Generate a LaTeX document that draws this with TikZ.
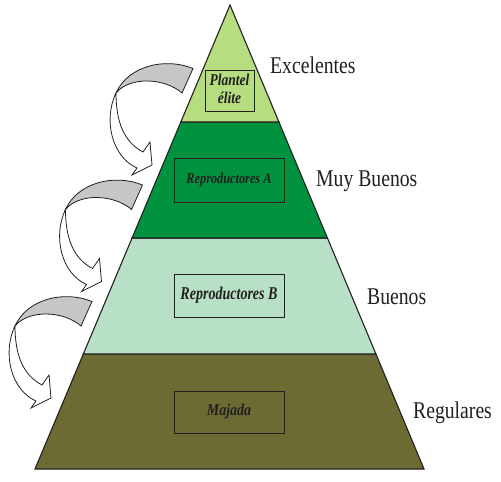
\documentclass[tikz,border=0pt]{standalone}
\usepackage{fontspec}
\setmainfont{Liberation Serif}
\usetikzlibrary{calc}
\definecolor{lime}{RGB}{182,221,128}
\definecolor{deepgreen}{RGB}{0,146,63}
\definecolor{mint}{RGB}{183,224,199}
\definecolor{olive}{RGB}{108,107,52}
\definecolor{arrowgray}{RGB}{198,198,198}
\definecolor{ink}{RGB}{35,31,32}
\newcommand{\sqz}[2][0.82]{\scalebox{#1}[1]{#2}}
\begin{document}
\begin{tikzpicture}[x=1pt,y=-1pt,
  layer/.style={draw=ink,line width=1.1pt,line join=miter},
  box/.style={draw=ink,line width=0.9pt,inner sep=0pt,text=ink,
    font=\bfseries\itshape},
  label/.style={anchor=base west,inner sep=0pt,text=ink,
    font=\fontsize{24}{28}\selectfont},
  ribbon/.style={draw=ink,line width=0.8pt,line join=miter}]
\useasboundingbox (0,0) rectangle (501,482);
\coordinate (A) at (230,5);
\coordinate (BL) at (35,469);
\coordinate (BR) at (424,469);
\coordinate (L1) at ($(A)!0.2522!(BL)$);
\coordinate (R1) at ($(A)!0.2522!(BR)$);
\coordinate (L2) at ($(A)!0.5022!(BL)$);
\coordinate (R2) at ($(A)!0.5022!(BR)$);
\coordinate (L3) at ($(A)!0.7522!(BL)$);
\coordinate (R3) at ($(A)!0.7522!(BR)$);
% layers
\draw[layer,fill=olive] (L3) -- (R3) -- (BR) -- (BL) -- cycle;
\draw[layer,fill=mint] (L2) -- (R2) -- (R3) -- (L3) -- cycle;
\draw[layer,fill=deepgreen] (L1) -- (R1) -- (R2) -- (L2) -- cycle;
\draw[layer,fill=lime] (A) -- (R1) -- (L1) -- cycle;
% boxes
\node[box,fill=lime,minimum width=49pt,minimum height=41pt,
  font=\bfseries\itshape\fontsize{16.5}{18}\selectfont] (pe) at (229.5,90.5)
  {\sqz{\begin{tabular}{@{}c@{}}Plantel\\élite\end{tabular}}};
\node[box,fill=deepgreen,minimum width=110pt,minimum height=44pt,
  font=\bfseries\itshape\fontsize{15}{18}\selectfont] (ra) at (229,180)
  {\sqz{Reproductores A}};
\node[box,fill=mint,minimum width=110pt,minimum height=43pt,
  font=\bfseries\itshape\fontsize{18}{20}\selectfont] (rb) at (229,295.5)
  {\sqz[0.78]{Reproductores B}};
\node[box,fill=olive,minimum width=110pt,minimum height=42pt,
  font=\bfseries\itshape\fontsize{16.5}{18}\selectfont] (mj) at (229,412)
  {\sqz[0.85]{Majada}};
% labels
\node[label] (exc) at (270,73) {\sqz{Excelentes}};
\node[label] (mb) at (316,186) {\sqz{Muy Buenos}};
\node[label] (bu) at (367,304) {\sqz{Buenos}};
\node[label] (reg) at (413,418) {\sqz{Regulares}};
% curved arrows
\foreach \k in {0,1,2}{
  \begin{scope}[shift={(-50.5*\k,116.5*\k)}]
    \draw[ribbon,fill=arrowgray] (193,68.5) .. controls (165,57) and (128,66) .. (116,93)
      .. controls (130,76) and (165,78) .. (182,93) -- cycle;
    \draw[ribbon,fill=white] (116,93) .. controls (103,120) and (112,157) .. (137,168)
      -- (132,175) -- (152,165) -- (150,142) -- (143,152)
      .. controls (124,142) and (116,122) .. (116,93) -- cycle;
  \end{scope}
}
\end{tikzpicture}
\end{document}
